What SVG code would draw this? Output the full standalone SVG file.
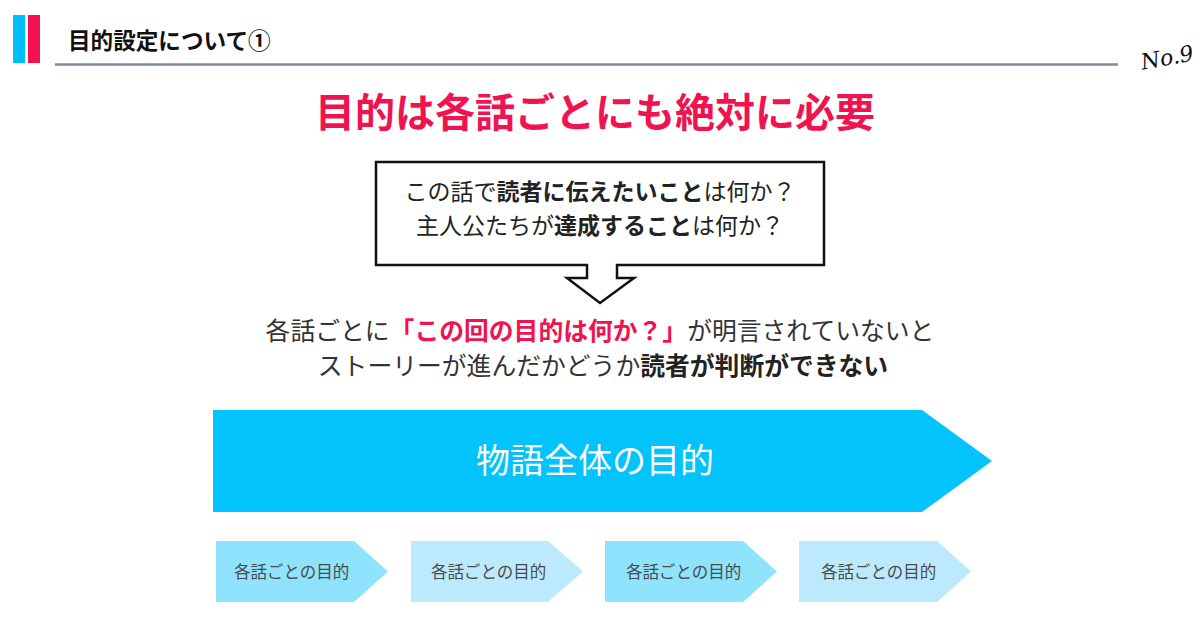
<svg xmlns="http://www.w3.org/2000/svg" width="1200" height="628" viewBox="0 0 1200 628">
<style>
text{font-family:"Noto Sans CJK JP","Noto Sans",sans-serif}
.b{font-weight:700}
.small{fill:#4a4a4a;font-size:16.5px}
.mid{fill:#333;font-size:24.8px}
.box{fill:#222;font-size:23px}
</style>
<rect width="1200" height="628" fill="#fff"/>
<g id="header">
<rect x="13" y="15" width="12" height="48" fill="#00bff8"/>
<rect x="28" y="15" width="12" height="48" fill="#f5104f"/>
<text x="68" y="49" class="b" font-size="22.6" fill="#111">目的設定について①</text>
<line x1="55" y1="64.5" x2="1118" y2="64.5" stroke="#7d8b98" stroke-width="2.5"/>
<text x="1140" y="66" font-style="italic" font-size="22" fill="#111" transform="rotate(-10 1162 55)" style="font-family:'DejaVu Serif',serif">No.9</text>
</g>
<g id="headline">
<text x="595" y="127" text-anchor="middle" class="b" font-size="40" fill="#ef1350">目的は各話ごとにも絶対に必要</text>
</g>
<g id="callout">
<path d="M376,162 H824 V265 H617 V278 H634 L600,303 L567,278 H587 V265 H376 Z" fill="#fff" stroke="#111" stroke-width="2.5" stroke-linejoin="miter"/>
<text x="600" y="200" text-anchor="middle" class="box">この話で<tspan class="b">読者に伝えたいこと</tspan>は何か？</text>
<text x="600" y="234" text-anchor="middle" class="box">主人公たちが<tspan class="b">達成すること</tspan>は何か？</text>
</g>
<g id="statement">
<text x="600" y="340" text-anchor="middle" class="mid">各話ごとに<tspan class="b" fill="#ef1350">「この回の目的は何か？」</tspan>が明言されていないと</text>
<text x="603" y="375" text-anchor="middle" class="mid">ストーリーが進んだかどうか<tspan class="b" fill="#222">読者が判断ができない</tspan></text>
</g>
<g id="overall">
<path d="M213,410 H922 L992,461 L922,512 H213 Z" fill="#02c3fc"/>
<text x="595" y="473" text-anchor="middle" font-size="34" fill="#fff">物語全体の目的</text>
</g>
<g id="ep1">
<path d="M216,541 H354 L388,571.5 L354,602 H216 Z" fill="#8fe3fc"/>
<text x="234" y="578" class="small">各話ごとの目的</text>
</g>
<g id="ep2">
<path d="M411,541 H548 L583,571.5 L548,602 H411 Z" fill="#bde9fc"/>
<text x="431" y="578" class="small">各話ごとの目的</text>
</g>
<g id="ep3">
<path d="M605,541 H743 L777,571.5 L743,602 H605 Z" fill="#8fe3fc"/>
<text x="626" y="578" class="small">各話ごとの目的</text>
</g>
<g id="ep4">
<path d="M799,541 H937 L971,571.5 L937,602 H799 Z" fill="#bde9fc"/>
<text x="821" y="578" class="small">各話ごとの目的</text>
</g>
<g id="connectors"></g>
</svg>
